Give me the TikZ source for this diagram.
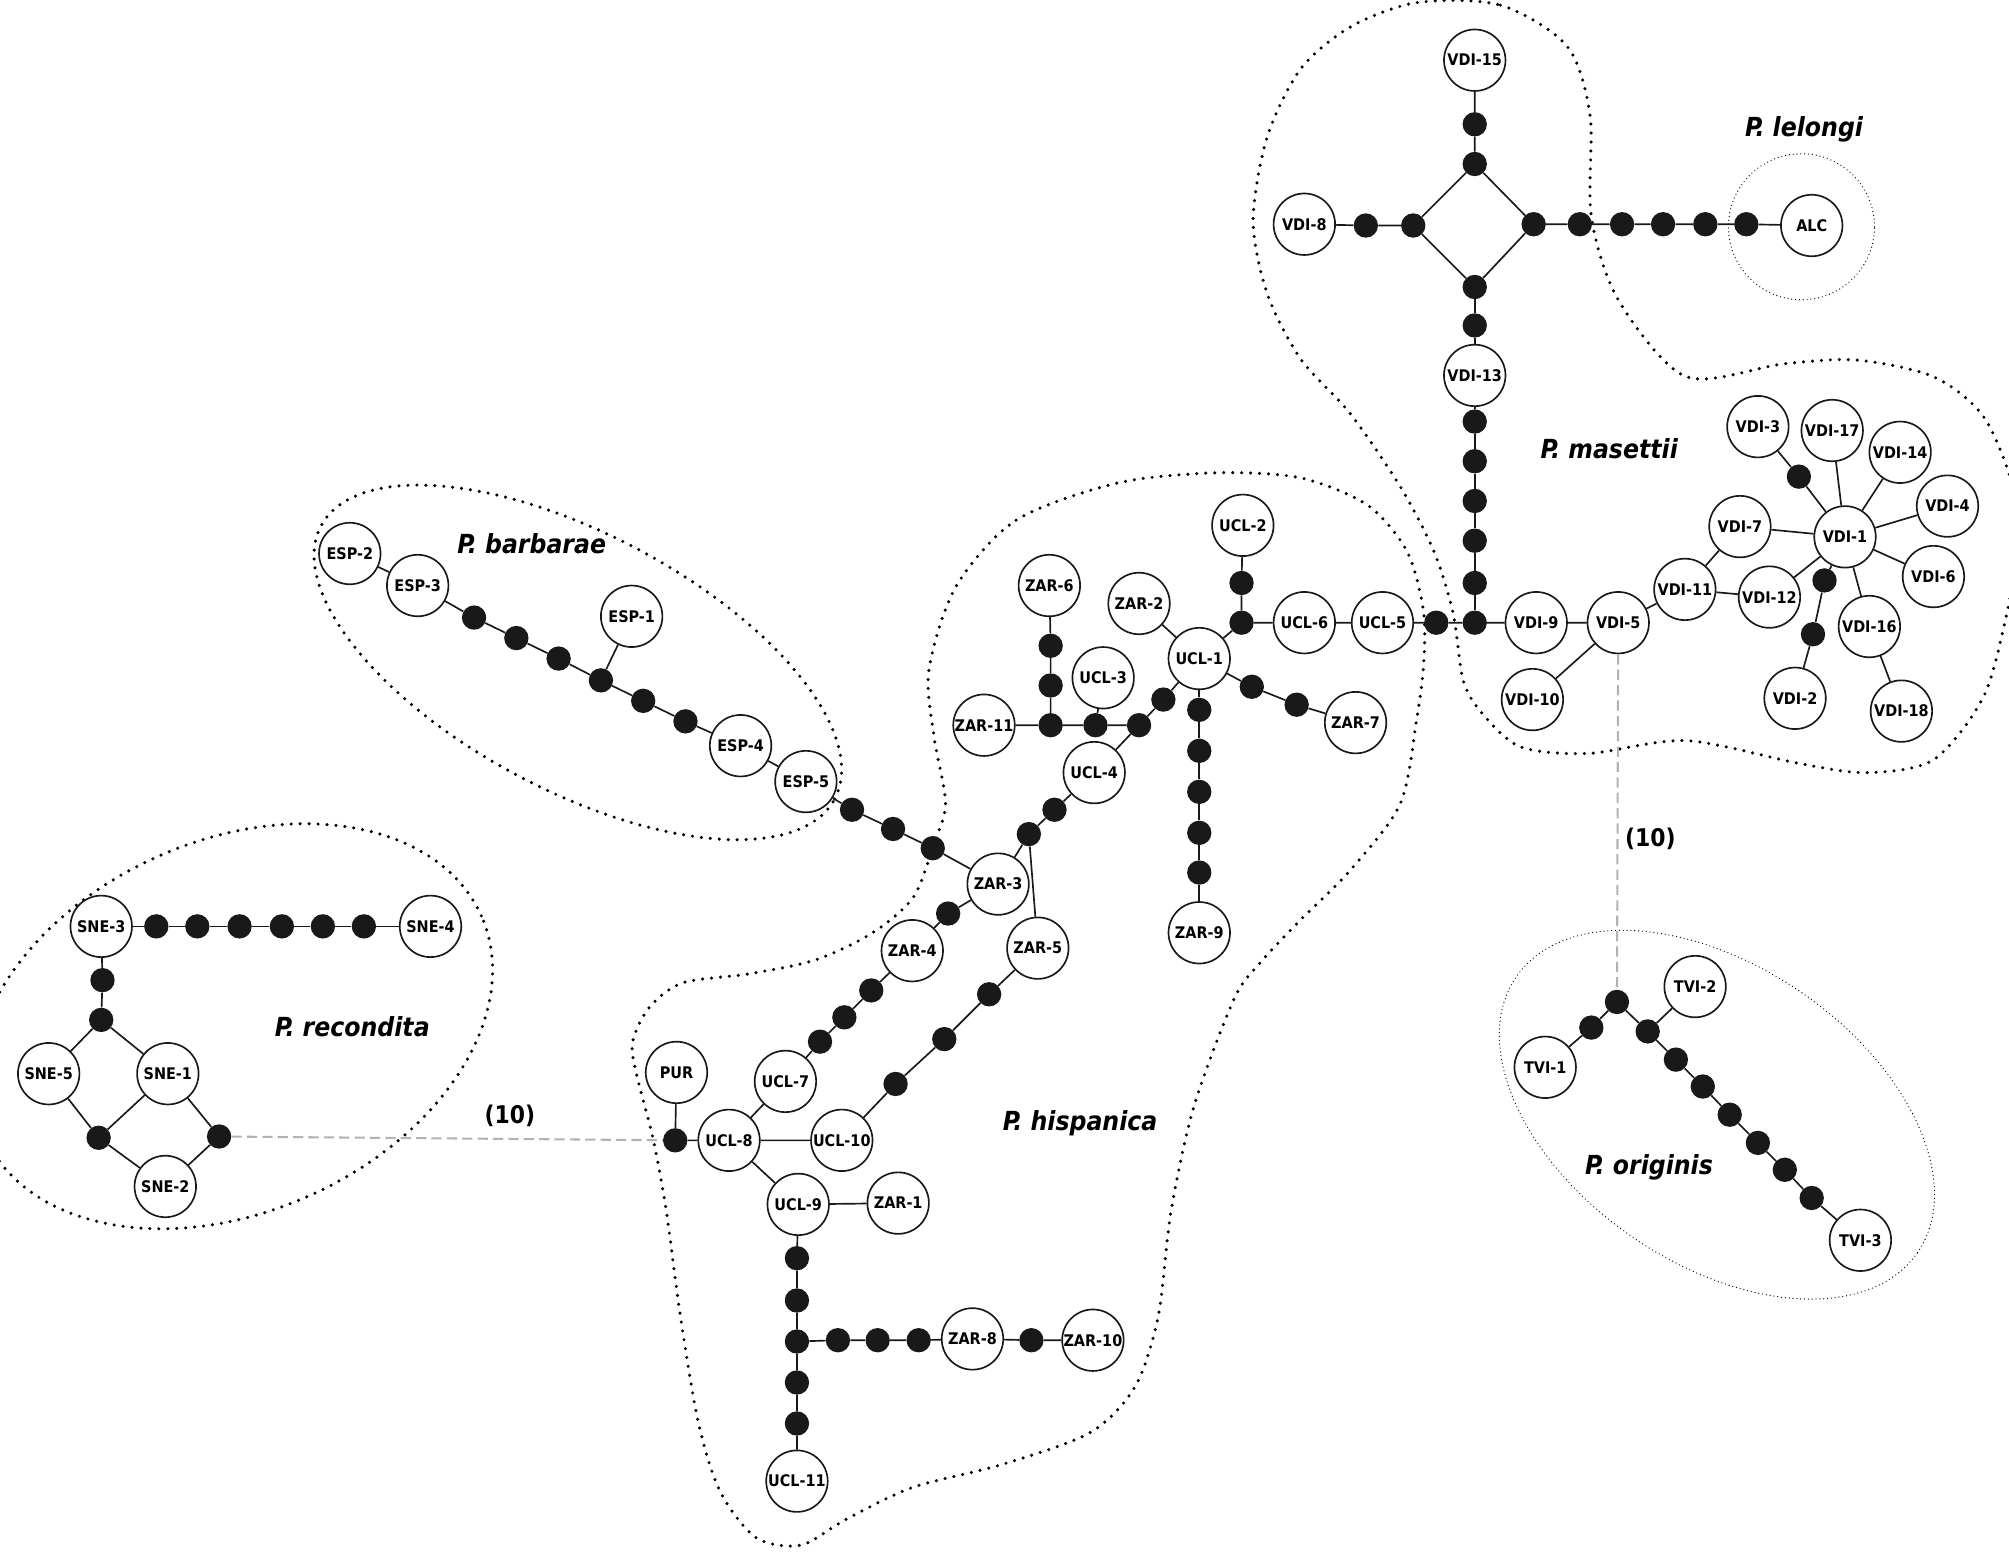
\documentclass[tikz,border=0pt]{standalone}
\usepackage{fontspec}
\newfontfamily\nodefont{DejaVu Sans Condensed}
\begin{document}
\begin{tikzpicture}[x=1pt,y=-1pt,
 hap/.style={circle, draw=black!90, line width=1.3pt, fill=white, minimum size=48pt, inner sep=0pt, font=\nodefont\bfseries\fontsize{12.5}{12.5}\selectfont},
 mv/.style={circle, fill=black!90, minimum size=19pt, inner sep=0pt},
 lnk/.style={line width=1.3pt, draw=black!90},
 hull/.style={line width=2.7pt, dash pattern=on 0pt off 7pt, line cap=round},
 thinhull/.style={line width=1pt, dash pattern=on 0pt off 3pt, line cap=round},
 gapline/.style={draw=black!30, line width=1.6pt, dash pattern=on 8pt off 4pt},
 sp/.style={font=\nodefont\bfseries\itshape\fontsize{20.5}{20.5}\selectfont},
 num/.style={font=\nodefont\bfseries\fontsize{19}{19}\selectfont}]
\useasboundingbox (0,0) rectangle (1568,1211);
% hulls
\draw[hull] plot[smooth cycle] coordinates {(1106,2) (1171,4) (1223,36) (1241,90) (1242,169) (1263,234) (1316,294) (1392,284) (1449,281) (1509,294) (1548,325) (1571,380) (1574,430) (1566,480) (1548,544) (1509,593) (1457,603) (1405,596) (1316,578) (1240,588) (1187,583) (1157,557) (1142,531) (1134,478) (1119,430) (1093,380) (1054,323) (1015,280) (989,229) (978,172) (989,107) (1015,54) (1054,21)};
\draw[hull] plot[smooth cycle] coordinates {(746,458) (793,406) (872,377) (950,369) (1015,373) (1067,394) (1098,430) (1111,477) (1111,520) (1106,559) (1093,627) (1054,679) (1015,718) (983,752) (963,780) (932,863) (914,945) (904,1027) (886,1082) (851,1118) (782,1143) (712,1161) (660,1186) (625,1206) (590,1200) (562,1164) (545,1110) (531,1027) (520,945) (510,890) (496,835) (494,812) (507,786) (533,767) (585,760) (637,749) (681,728) (713,700) (729,658) (738,627) (729,575) (725,523)};
\draw[hull, rotate around={-28:(451,517)}] (451,517) ellipse [x radius=227pt, y radius=100pt];
\draw[hull, rotate around={24:(182,801)}] (182,801) ellipse [x radius=212pt, y radius=145pt];
\draw[thinhull] (1406,177) circle [radius=57pt];
\draw[thinhull, rotate around={-34.5:(1340,870)}] (1340,870) ellipse [x radius=190pt, y radius=116pt];
% masettii
\node[hap] (v15) at (1151,47) {VDI-15};
\node[mv] (m1) at (1151,97) {};
\node[mv] (mT) at (1151,128) {};
\node[hap] (v8) at (1018,175) {VDI-8};
\node[mv] (m2) at (1066,176) {};
\node[mv] (mL) at (1103,176) {};
\node[mv] (mR) at (1197,175) {};
\node[mv] (mB) at (1151,224) {};
\node[mv] (m3) at (1151,254) {};
\node[hap] (v13) at (1151,293) {VDI-13};
\node[mv] (ma1) at (1233,175) {};
\node[mv] (ma2) at (1266,175) {};
\node[mv] (ma3) at (1298,175) {};
\node[mv] (ma4) at (1331,175) {};
\node[mv] (ma5) at (1363,175) {};
\node[hap] (alc) at (1414,176) {ALC};
\node[mv] (mv1) at (1151,329) {};
\node[mv] (mv2) at (1151,360) {};
\node[mv] (mv3) at (1151,391) {};
\node[mv] (mv4) at (1151,422) {};
\node[mv] (mv5) at (1151,455) {};
\node[mv] (mj) at (1151,486) {};
\node[mv] (mc) at (1121,486) {};
\node[hap] (v9) at (1199,486) {VDI-9};
\node[hap] (v5) at (1263,486) {VDI-5};
\node[hap] (v10) at (1196,546) {VDI-10};
\node[hap] (v11) at (1315,460) {VDI-11};
\node[hap] (v12) at (1381,466) {VDI-12};
\node[hap] (v7) at (1358,411) {VDI-7};
\node[hap] (v1) at (1440,419) {VDI-1};
\node[hap] (v3) at (1372,333) {VDI-3};
\node[mv] (d3) at (1404,372) {};
\node[hap] (v17) at (1430,336) {VDI-17};
\node[hap] (v14) at (1483,353) {VDI-14};
\node[hap] (v4) at (1520,395) {VDI-4};
\node[hap] (v6) at (1509,450) {VDI-6};
\node[hap] (v16) at (1459,489) {VDI-16};
\node[hap] (v18) at (1484,555) {VDI-18};
\node[hap] (v2) at (1401,545) {VDI-2};
\node[mv] (d21) at (1424,453) {};
\node[mv] (d22) at (1415,495) {};
% hispanica upper
\node[hap] (u5) at (1079,486) {UCL-5};
\node[hap] (u6) at (1018,486) {UCL-6};
\node[hap] (u2) at (970,410) {UCL-2};
\node[mv] (hd1) at (969,455) {};
\node[mv] (hj1) at (969,486) {};
\node[hap] (z2) at (889,471) {ZAR-2};
\node[hap] (u1) at (936,514) {UCL-1};
\node[hap] (z6) at (819,457) {ZAR-6};
\node[mv] (hd2) at (820,504) {};
\node[mv] (hd3) at (820,535) {};
\node[mv] (hj2) at (820,566) {};
\node[hap] (z11) at (768,566) {ZAR-11};
\node[hap] (u3) at (861,529) {UCL-3};
\node[mv] (hd4) at (855,566) {};
\node[mv] (hd5) at (889,566) {};
\node[mv] (hd6) at (908,546) {};
\node[hap] (u4) at (854,603) {UCL-4};
\node[mv] (hd7) at (823,632) {};
\node[mv] (hd8) at (803,651) {};
\node[hap] (z3) at (779,690) {ZAR-3};
\node[hap] (z5) at (810,740) {ZAR-5};
\node[mv] (hd9) at (936,554) {};
\node[mv] (hd10) at (936,586) {};
\node[mv] (hd11) at (936,618) {};
\node[mv] (hd12) at (936,650) {};
\node[mv] (hd13) at (936,681) {};
\node[hap] (z9) at (936,728) {ZAR-9};
\node[mv] (hd14) at (977,536) {};
\node[mv] (hd15) at (1012,550) {};
\node[hap] (z7) at (1058,564) {ZAR-7};
% barbarae
\node[hap] (e2) at (273,432) {ESP-2};
\node[hap] (e3) at (326,457) {ESP-3};
\node[mv] (ed1) at (370,482) {};
\node[mv] (ed2) at (403,498) {};
\node[mv] (ed3) at (436,514) {};
\node[mv] (ed4) at (469,531) {};
\node[mv] (ed5) at (502,547) {};
\node[mv] (ed6) at (535,563) {};
\node[hap] (e1) at (493,481) {ESP-1};
\node[hap] (e4) at (578,582) {ESP-4};
\node[hap] (e5) at (629,610) {ESP-5};
\node[mv] (ed7) at (665,632) {};
\node[mv] (ed8) at (697,647) {};
\node[mv] (ed9) at (728,662) {};
% hispanica lower
\node[mv] (hx1) at (740,713) {};
\node[hap] (z4) at (712,742) {ZAR-4};
\node[mv] (hx2) at (680,773) {};
\node[mv] (hx3) at (659,794) {};
\node[mv] (hx4) at (640,813) {};
\node[hap] (u7) at (613,844) {UCL-7};
\node[mv] (hy1) at (772,776) {};
\node[mv] (hy2) at (737,811) {};
\node[mv] (hy3) at (699,846) {};
\node[hap] (u10) at (657,890) {UCL-10};
\node[hap] (pur) at (528,837) {PUR};
\node[mv] (pd) at (527,890) {};
\node[hap] (u8) at (569,890) {UCL-8};
\node[hap] (u9) at (623,940) {UCL-9};
\node[hap] (z1) at (701,939) {ZAR-1};
\node[mv] (hz1) at (622,982) {};
\node[mv] (hz2) at (622,1015) {};
\node[mv] (hzj) at (622,1047) {};
\node[mv] (hz3) at (622,1079) {};
\node[mv] (hz4) at (622,1111) {};
\node[hap] (u11) at (622,1156) {UCL-11};
\node[mv] (hw1) at (654,1046) {};
\node[mv] (hw2) at (685,1046) {};
\node[mv] (hw3) at (717,1046) {};
\node[hap] (z8) at (759,1045) {ZAR-8};
\node[mv] (hw4) at (805,1046) {};
\node[hap] (z10) at (853,1046) {ZAR-10};
% recondita
\node[hap] (s3) at (79,723) {SNE-3};
\node[mv] (r1) at (122,723) {};
\node[mv] (r2) at (154,723) {};
\node[mv] (r3) at (187,723) {};
\node[mv] (r4) at (220,723) {};
\node[mv] (r5) at (252,723) {};
\node[mv] (r6) at (284,723) {};
\node[hap] (s4) at (336,723) {SNE-4};
\node[mv] (rd1) at (80,765) {};
\node[mv] (rd2) at (79,796) {};
\node[hap] (s5) at (38,838) {SNE-5};
\node[hap] (s1) at (131,838) {SNE-1};
\node[mv] (rd3) at (77,888) {};
\node[mv] (rd4) at (171,887) {};
\node[hap] (s2) at (129,926) {SNE-2};
% originis
\node[mv] (od0) at (1262,782) {};
\node[mv] (od1) at (1242,802) {};
\node[hap] (t1) at (1206,833) {TVI-1};
\node[mv] (od2) at (1286,805) {};
\node[hap] (t2) at (1323,770) {TVI-2};
\node[mv] (od3) at (1308,827) {};
\node[mv] (od4) at (1329,848) {};
\node[mv] (od5) at (1350,870) {};
\node[mv] (od6) at (1372,892) {};
\node[mv] (od7) at (1393,913) {};
\node[mv] (od8) at (1414,935) {};
\node[hap] (t3) at (1452,968) {TVI-3};
% edges
\draw[lnk] (v15) -- (m1) -- (mT) -- (mL) -- (mB) -- (mR) -- (mT);
\draw[lnk] (v8) -- (m2) -- (mL);
\draw[lnk] (mB) -- (m3) -- (v13) -- (mv1) -- (mv2) -- (mv3) -- (mv4) -- (mv5) -- (mj);
\draw[lnk] (mR) -- (ma1) -- (ma2) -- (ma3) -- (ma4) -- (ma5) -- (alc);
\draw[lnk] (hj1) -- (u6) -- (u5) -- (mc) -- (mj) -- (v9) -- (v5) -- (v11) -- (v7) -- (v1);
\draw[lnk] (v5) -- (v10);
\draw[lnk] (v11) -- (v12) -- (v1);
\draw[lnk] (v1) -- (d3) -- (v3);
\draw[lnk] (v1) -- (v17);
\draw[lnk] (v1) -- (v14);
\draw[lnk] (v1) -- (v4);
\draw[lnk] (v1) -- (v6);
\draw[lnk] (v1) -- (v16) -- (v18);
\draw[lnk] (v1) -- (d21) -- (d22) -- (v2);
\draw[lnk] (u2) -- (hd1) -- (hj1) -- (u1) -- (z2);
\draw[lnk] (u1) -- (hd6) -- (hd5) -- (hd4) -- (hj2) -- (z11);
\draw[lnk] (hd4) -- (u3);
\draw[lnk] (hj2) -- (hd3) -- (hd2) -- (z6);
\draw[lnk] (hd5) -- (u4) -- (hd7) -- (hd8) -- (z3);
\draw[lnk] (hd8) -- (z5);
\draw[lnk] (u1) -- (hd9) -- (hd10) -- (hd11) -- (hd12) -- (hd13) -- (z9);
\draw[lnk] (u1) -- (hd14) -- (hd15) -- (z7);
\draw[lnk] (e2) -- (e3) -- (ed1) -- (ed2) -- (ed3) -- (ed4) -- (ed5) -- (ed6) -- (e4) -- (e5) -- (ed7) -- (ed8) -- (ed9) -- (z3);
\draw[lnk] (ed4) -- (e1);
\draw[lnk] (z3) -- (hx1) -- (z4) -- (hx2) -- (hx3) -- (hx4) -- (u7) -- (u8);
\draw[lnk] (z5) -- (hy1) -- (hy2) -- (hy3) -- (u10) -- (u8);
\draw[lnk] (pur) -- (pd) -- (u8) -- (u9) -- (z1);
\draw[lnk] (u9) -- (hz1) -- (hz2) -- (hzj) -- (hz3) -- (hz4) -- (u11);
\draw[lnk] (hzj) -- (hw1) -- (hw2) -- (hw3) -- (z8) -- (hw4) -- (z10);
\draw[lnk] (s3) -- (r1) -- (r2) -- (r3) -- (r4) -- (r5) -- (r6) -- (s4);
\draw[lnk] (s3) -- (rd1) -- (rd2) -- (s5) -- (rd3) -- (s2) -- (rd4) -- (s1) -- (rd2);
\draw[lnk] (s1) -- (rd3);
\draw[lnk] (t1) -- (od1) -- (od0) -- (od2) -- (od3) -- (od4) -- (od5) -- (od6) -- (od7) -- (od8) -- (t3);
\draw[lnk] (od2) -- (t2);
\draw[gapline] (v5) -- (od0);
\draw[gapline] (rd4) -- (pd);
% labels
\node[sp] (Llel) at (1408,101) {P. lelongi};
\node[sp] (Lmas) at (1256,350) {P. masettii};
\node[sp] (Lbar) at (415,424) {P. barbarae};
\node[sp] (Lhis) at (843,877) {P. hispanica};
\node[sp] (Lrec) at (275,801) {P. recondita};
\node[sp] (Lori) at (1287,911) {P. originis};
\node[num] (n1) at (398,871) {(10)};
\node[num] (n2) at (1288,655) {(10)};
\end{tikzpicture}
\end{document}
